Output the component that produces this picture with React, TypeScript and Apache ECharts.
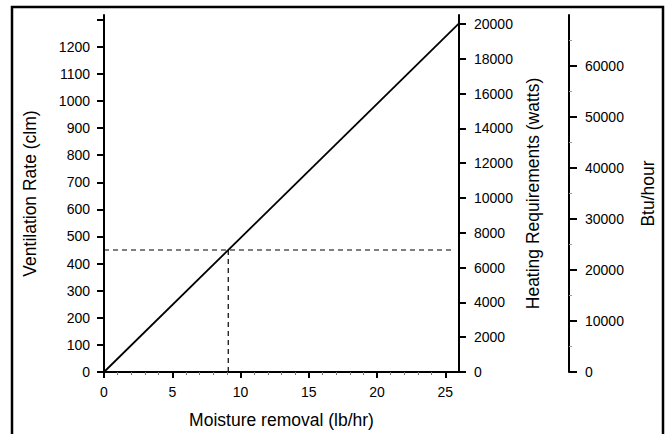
import React, { useEffect, useRef } from 'react';
import * as echarts from 'echarts';

// ---- data ----
const xLabels = [0, 5, 10, 15, 20, 25];
const xMinorTicks = [1, 2, 3, 4, 6, 7, 8, 9, 11, 12, 13, 14, 16, 17, 18, 19, 21, 22, 23, 24];
const ventTicks = [0, 100, 200, 300, 400, 500, 600, 700, 800, 900, 1000, 1100, 1200, 1300];
const ventLabels = [0, 100, 200, 300, 400, 500, 600, 700, 800, 900, 1000, 1100, 1200];
const wattTicks = [0, 2000, 4000, 6000, 8000, 10000, 12000, 14000, 16000, 18000, 20000];
const btuTicks = [0, 10000, 20000, 30000, 40000, 50000, 60000];
const btuMinorTicks = [5000, 15000, 25000, 35000, 45000, 55000, 65000];

const lineMoisture = [0, 26];
const lineVent = [0, 1286];
const readMoisture = 9.1;
const readVent = 450;
const readLineEnd = 25.6;

const X_MAX = 26;
const VENT_MAX = 1317;
const WATT_MAX = 20516;
const BTU_MAX = 70000;

const FONT = '"Liberation Sans", Arial, Helvetica, sans-serif';

export default function App() {
  const ref = useRef<HTMLDivElement>(null);
  useEffect(() => {
    if (!ref.current) return;
    const chart = echarts.init(ref.current, null, { renderer: 'svg' });
    const black = '#000';
    const plain = (v: number) => String(v);
    const labelStyle = { color: black, fontSize: 14, fontFamily: FONT, formatter: plain };
    const nameStyle = { color: black, fontSize: 17.5, fontFamily: FONT };
    chart.setOption({
      animation: false,
      backgroundColor: '#fff',
      grid: { left: 104, top: 15, width: 355, height: 357, containLabel: false },
      graphic: [
        {
          type: 'rect',
          silent: true,
          z: -1,
          shape: { x: 12, y: 7, width: 651, height: 460 },
          style: { fill: 'none', stroke: black, lineWidth: 2.5 },
        },
      ],
      xAxis: [
        {
          type: 'value',
          min: 0,
          max: X_MAX,
          interval: 5,
          name: 'Moisture removal (lb/hr)',
          nameLocation: 'middle',
          nameGap: 39,
          nameTextStyle: nameStyle,
          axisLine: { show: true, onZero: false, lineStyle: { color: black, width: 2 } },
          axisTick: { show: true, inside: false, length: 6, customValues: xLabels, lineStyle: { color: black, width: 2 } },
          axisLabel: { ...labelStyle, margin: 13, customValues: xLabels },
          splitLine: { show: false },
        },
        {
          type: 'value',
          min: 0,
          max: X_MAX,
          interval: 1,
          position: 'bottom',
          axisLine: { show: false, onZero: false },
          axisTick: { show: true, length: 3, customValues: xMinorTicks, lineStyle: { color: '#777', width: 1 } },
          axisLabel: { show: false },
          splitLine: { show: false },
        },
      ],
      yAxis: [
        {
          type: 'value',
          position: 'left',
          min: 0,
          max: VENT_MAX,
          interval: 100,
          name: 'Ventilation Rate (clm)',
          nameLocation: 'middle',
          nameRotate: 90,
          nameGap: 65,
          nameTextStyle: nameStyle,
          axisLine: { show: true, onZero: false, lineStyle: { color: black, width: 2 } },
          axisTick: { show: true, length: 7, customValues: ventTicks, lineStyle: { color: black, width: 2 } },
          axisLabel: { ...labelStyle, margin: 14, customValues: ventLabels },
          splitLine: { show: false },
        },
        {
          type: 'value',
          position: 'right',
          min: 0,
          max: WATT_MAX,
          interval: 2000,
          name: 'Heating Requirements (watts)',
          nameLocation: 'middle',
          nameRotate: 90,
          nameGap: 65,
          nameTextStyle: nameStyle,
          axisLine: { show: true, onZero: false, lineStyle: { color: black, width: 2 } },
          axisTick: { show: true, length: 7, customValues: wattTicks, lineStyle: { color: black, width: 2 } },
          axisLabel: { ...labelStyle, margin: 15, customValues: wattTicks },
          splitLine: { show: false },
        },
        {
          type: 'value',
          position: 'right',
          offset: 110,
          min: 0,
          max: BTU_MAX,
          interval: 10000,
          name: 'Btu/hour',
          nameLocation: 'middle',
          nameRotate: 90,
          nameGap: 70,
          nameTextStyle: nameStyle,
          axisLine: { show: true, onZero: false, lineStyle: { color: black, width: 2 } },
          axisTick: { show: true, length: 8, customValues: btuTicks, lineStyle: { color: black, width: 2 } },
          axisLabel: { ...labelStyle, margin: 16, customValues: btuTicks },
          splitLine: { show: false },
        },
        {
          type: 'value',
          position: 'right',
          offset: 110,
          min: 0,
          max: BTU_MAX,
          interval: 10000,
          axisLine: { show: false, onZero: false },
          axisTick: { show: true, length: 3, customValues: btuMinorTicks, lineStyle: { color: '#999', width: 1 } },
          axisLabel: { show: false },
          splitLine: { show: false },
        },
      ],
      series: [
        {
          type: 'line',
          xAxisIndex: 0,
          yAxisIndex: 0,
          data: lineMoisture.map((x, i) => [x, lineVent[i]]),
          symbol: 'none',
          lineStyle: { color: black, width: 1.8 },
          z: 3,
        },
        {
          type: 'line',
          xAxisIndex: 0,
          yAxisIndex: 0,
          data: [
            [0, readVent],
            [readLineEnd, readVent],
          ],
          symbol: 'none',
          lineStyle: { color: black, width: 1.2, type: [5, 4] },
        },
        {
          type: 'line',
          xAxisIndex: 0,
          yAxisIndex: 0,
          data: [
            [readMoisture, 0],
            [readMoisture, readVent],
          ],
          symbol: 'none',
          lineStyle: { color: black, width: 1.2, type: [5, 4] },
        },
      ],
    });
    return () => chart.dispose();
  }, []);
  return (
    <div
      ref={ref}
      style={{ position: 'absolute', left: 0, top: 0, width: 665, height: 434, background: '#fff' }}
    />
  );
}
